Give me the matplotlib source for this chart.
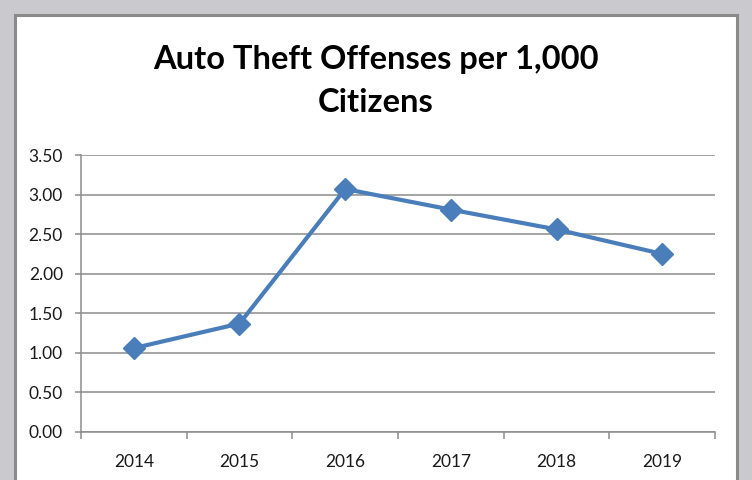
import matplotlib.pyplot as plt
from matplotlib.patches import Rectangle
import numpy as np

years = ["2014", "2015", "2016", "2017", "2018", "2019"]
offenses = [1.06, 1.37, 3.07, 2.81, 2.56, 2.25]
y_ticks = [0.0, 0.5, 1.0, 1.5, 2.0, 2.5, 3.0, 3.5]

blue = "#4a7ebb"
grid_gray = "#8c8c8c"

fig = plt.figure(figsize=(7.52, 4.8), dpi=100)
fig.patch.set_facecolor("#c9c9ce")

# white chart panel with a dark frame, kept behind the axes
panel = Rectangle((15 / 752, -0.05), (737 - 15) / 752, (465 / 480) + 0.05,
                  transform=fig.transFigure, facecolor="white",
                  edgecolor="#8a8a8a", linewidth=2.2, zorder=-10)
fig.add_artist(panel)

ax = fig.add_axes([81 / 752, 48 / 480, (715 - 81) / 752, (432 - 155) / 480])
ax.set_facecolor("none")
ax.set_zorder(5)

x = np.arange(len(years))
ax.plot(x, offenses, color=blue, linewidth=3, marker="D", markersize=11,
        markeredgecolor=blue, zorder=3, clip_on=False)

ax.set_xlim(-0.5, len(years) - 0.5)
ax.set_ylim(0, 3.5)
ax.set_yticks(y_ticks)
ax.set_yticklabels([f"{v:.2f}" for v in y_ticks])
ax.yaxis.grid(True, color=grid_gray, linewidth=1.1)
ax.set_axisbelow(True)

ax.set_xticks(x)
ax.set_xticklabels(years)
ax.set_xticks(np.arange(len(years) + 1) - 0.5, minor=True)
ax.tick_params(axis="x", which="major", length=0, pad=16)
ax.tick_params(axis="x", which="minor", length=5, color=grid_gray, width=1.1)
ax.tick_params(axis="y", length=4, color=grid_gray, width=1.1, pad=9)

for lab in ax.get_xticklabels() + ax.get_yticklabels():
    lab.set_fontfamily("Lato")
    lab.set_fontsize(12.5)
    lab.set_color("#1a1a1a")

for side in ["top", "right"]:
    ax.spines[side].set_visible(False)
ax.spines["left"].set_color(grid_gray)
ax.spines["bottom"].set_color(grid_gray)
ax.spines["left"].set_linewidth(1.1)
ax.spines["bottom"].set_linewidth(1.1)

fig.text(376 / 752, 1 - 60 / 480, "Auto Theft Offenses per 1,000",
         ha="center", va="center", fontsize=23.5, fontweight="bold", family="Lato")
fig.text(376 / 752, 1 - 103 / 480, "Citizens",
         ha="center", va="center", fontsize=23.5, fontweight="bold", family="Lato")

fig.savefig("out.png", dpi=100, facecolor=fig.get_facecolor())
